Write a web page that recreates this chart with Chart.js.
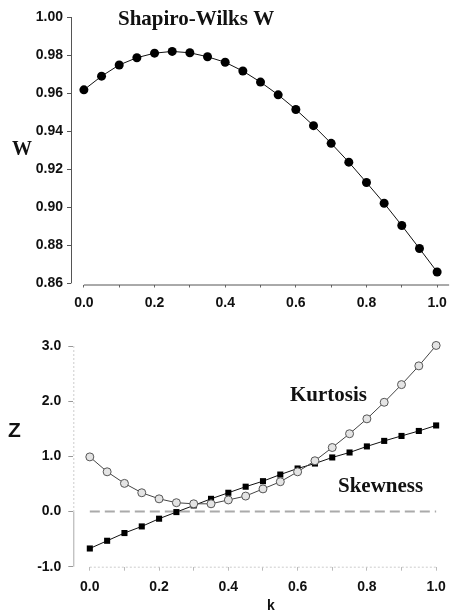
<!DOCTYPE html>
<html>
<head>
<meta charset="utf-8">
<script src="https://cdn.jsdelivr.net/npm/chart.js@4.4.1/dist/chart.umd.min.js"></script>
<style>
  html, body { margin: 0; padding: 0; background: #fff; }
  #wrap { position: relative; width: 454px; height: 616px; }
  canvas { position: absolute; left: 0; }
  #topChart { top: 0; }
  #bottomChart { top: 310px; }
</style>
</head>
<body>
<div id="wrap">
  <canvas id="topChart" width="454" height="310"></canvas>
  <canvas id="bottomChart" width="454" height="306"></canvas>
</div>
<script>
// values
const kValues = [0.00, 0.05, 0.10, 0.15, 0.20, 0.25, 0.30, 0.35, 0.40, 0.45, 0.50,
                 0.55, 0.60, 0.65, 0.70, 0.75, 0.80, 0.85, 0.90, 0.95, 1.00];
const wValues = [0.9617, 0.9689, 0.9748, 0.9786, 0.9810, 0.9819, 0.9812, 0.9791, 0.9762, 0.9716, 0.9658,
                 0.9591, 0.9514, 0.9429, 0.9336, 0.9237, 0.9130, 0.9021, 0.8904, 0.8783, 0.8660];
const kurtosisZ = [0.99, 0.72, 0.51, 0.34, 0.23, 0.16, 0.14, 0.14, 0.21, 0.28, 0.41,
                   0.54, 0.72, 0.92, 1.16, 1.41, 1.68, 1.98, 2.30, 2.64, 3.01];
const skewnessZ = [-0.67, -0.53, -0.39, -0.27, -0.13, -0.01, 0.11, 0.23, 0.34, 0.45, 0.55,
                   0.67, 0.78, 0.87, 0.98, 1.07, 1.18, 1.28, 1.37, 1.46, 1.56];
const zeroLineK = [0, 1];
const zeroLineZ = [0, 0];

const kTicks = [0, 0.1, 0.2, 0.3, 0.4, 0.5, 0.6, 0.7, 0.8, 0.9, 1.0];
const wTicks = [0.86, 0.88, 0.90, 0.92, 0.94, 0.96, 0.98, 1.00];
const zTicks = [-1, 0, 1, 2, 3];

const pts = (xs, ys) => xs.map((x, i) => ({ x: x, y: ys[i] }));
const tickFont = { family: 'Liberation Sans, Arial, sans-serif', size: 14, weight: 'bold' };

function kLabel(v) {
  return Math.round(v * 10) % 2 === 0 ? v.toFixed(1) : '';
}

// draws free text and the offset axis lines
function overlay(id, draw) {
  return { id: id, afterDraw(chart) { const c = chart.ctx; c.save(); draw(chart, c); c.restore(); } };
}

new Chart(document.getElementById('topChart'), {
  type: 'scatter',
  data: {
    datasets: [{
      data: pts(kValues, wValues),
      showLine: true,
      borderColor: '#111',
      borderWidth: 1,
      backgroundColor: '#000',
      pointRadius: 4.5,
      pointBorderWidth: 0
    }]
  },
  options: {
    responsive: false,
    animation: false,
    devicePixelRatio: 1,
    clip: false,
    layout: { padding: { top: 17, right: 2, left: 0, bottom: 0 } },
    plugins: { legend: { display: false }, tooltip: { enabled: false } },
    scales: {
      x: {
        type: 'linear', min: -0.0365, max: 1.034,
        afterBuildTicks: s => { s.ticks = kTicks.map(v => ({ value: v })); },
        afterFit: s => { s.height = 25.5; },
        border: { display: false },
        grid: { drawOnChartArea: false, tickLength: 3, color: '#666' },
        ticks: { callback: v => kLabel(v), color: '#111', font: tickFont, padding: 7, maxRotation: 0, autoSkip: false }
      },
      y: {
        type: 'linear', min: 0.8594, max: 1.0,
        afterBuildTicks: s => { s.ticks = wTicks.map(v => ({ value: v })); },
        afterFit: s => { s.width = 71; },
        border: { display: false },
        grid: { drawOnChartArea: false, tickLength: 4, color: '#555' },
        ticks: { callback: v => v.toFixed(2), color: '#111', font: tickFont, padding: 4 }
      }
    }
  },
  plugins: [overlay('topText', (chart, c) => {
    const x = chart.scales.x, y = chart.scales.y, a = chart.chartArea;
    c.strokeStyle = '#555';
    c.lineWidth = 1;
    c.beginPath();
    c.moveTo(a.left + 0.5, y.getPixelForValue(1.0));
    c.lineTo(a.left + 0.5, y.getPixelForValue(0.86));
    c.moveTo(x.getPixelForValue(0), a.bottom + 0.5);
    c.lineTo(a.right, a.bottom + 0.5);
    c.stroke();
    c.fillStyle = '#111';
    c.textBaseline = 'alphabetic';
    c.font = 'bold 21px "Liberation Serif", "Times New Roman", serif';
    c.fillText('Shapiro-Wilks W', 118, 25);
    c.font = 'bold 20px "Liberation Serif", "Times New Roman", serif';
    c.fillText('W', 12, 155);
  })]
});

new Chart(document.getElementById('bottomChart'), {
  type: 'scatter',
  data: {
    datasets: [{
      label: 'Kurtosis',
      data: pts(kValues, kurtosisZ),
      showLine: true,
      borderColor: '#444',
      borderWidth: 1,
      backgroundColor: '#e4e4e4',
      pointBorderColor: '#555',
      pointBorderWidth: 1,
      pointRadius: 4,
      order: 1
    }, {
      label: 'Skewness',
      data: pts(kValues, skewnessZ),
      showLine: true,
      borderColor: '#111',
      borderWidth: 1,
      backgroundColor: '#000',
      pointStyle: 'rect',
      pointRadius: 4.3,
      pointBorderWidth: 0,
      order: 2
    }, {
      label: 'zero',
      data: pts(zeroLineK, zeroLineZ),
      showLine: true,
      borderColor: '#aaa',
      borderWidth: 2,
      borderDash: [10, 5],
      pointRadius: 0,
      order: 3
    }]
  },
  options: {
    responsive: false,
    animation: false,
    devicePixelRatio: 1,
    clip: false,
    layout: { padding: { top: 36, right: 9, left: 0, bottom: 0 } },
    plugins: { legend: { display: false }, tooltip: { enabled: false } },
    scales: {
      x: {
        type: 'linear', min: -0.0477, max: 1.015,
        afterBuildTicks: s => { s.ticks = kTicks.map(v => ({ value: v })); },
        afterFit: s => { s.height = 49.3; },
        border: { display: false },
        grid: { drawOnChartArea: false, tickLength: 4, color: '#bbb' },
        ticks: { callback: v => kLabel(v), color: '#111', font: tickFont, padding: 8, maxRotation: 0, autoSkip: false }
      },
      y: {
        type: 'linear', min: -1, max: 3,
        afterBuildTicks: s => { s.ticks = zTicks.map(v => ({ value: v })); },
        afterFit: s => { s.width = 73.3; },
        border: { display: false },
        grid: { drawOnChartArea: false, tickLength: 5, color: '#999' },
        ticks: { callback: v => v.toFixed(1), color: '#111', font: tickFont, padding: 7 }
      }
    }
  },
  plugins: [overlay('bottomText', (chart, c) => {
    const x = chart.scales.x, y = chart.scales.y, a = chart.chartArea;
    c.lineWidth = 1;
    c.strokeStyle = '#ccc';
    c.setLineDash([2, 2]);
    c.beginPath();
    c.moveTo(a.left + 0.5, y.getPixelForValue(3));
    c.lineTo(a.left + 0.5, y.getPixelForValue(0));
    c.moveTo(x.getPixelForValue(0), a.bottom + 0.5);
    c.lineTo(x.getPixelForValue(1), a.bottom + 0.5);
    c.stroke();
    c.setLineDash([]);
    c.strokeStyle = '#aaa';
    c.beginPath();
    c.moveTo(a.left + 0.5, y.getPixelForValue(0));
    c.lineTo(a.left + 0.5, y.getPixelForValue(-1));
    c.stroke();
    c.fillStyle = '#111';
    c.textBaseline = 'alphabetic';
    c.font = 'bold 21px "Liberation Sans", Arial, sans-serif';
    c.fillText('Z', 8, 127);
    c.font = 'bold 21px "Liberation Serif", "Times New Roman", serif';
    c.fillText('Kurtosis', 290, 91);
    c.fillText('Skewness', 338, 182);
    c.font = 'bold 14px "Liberation Sans", Arial, sans-serif';
    c.textAlign = 'center';
    c.fillText('k', 271, 300);
  })]
});
</script>
</body>
</html>
